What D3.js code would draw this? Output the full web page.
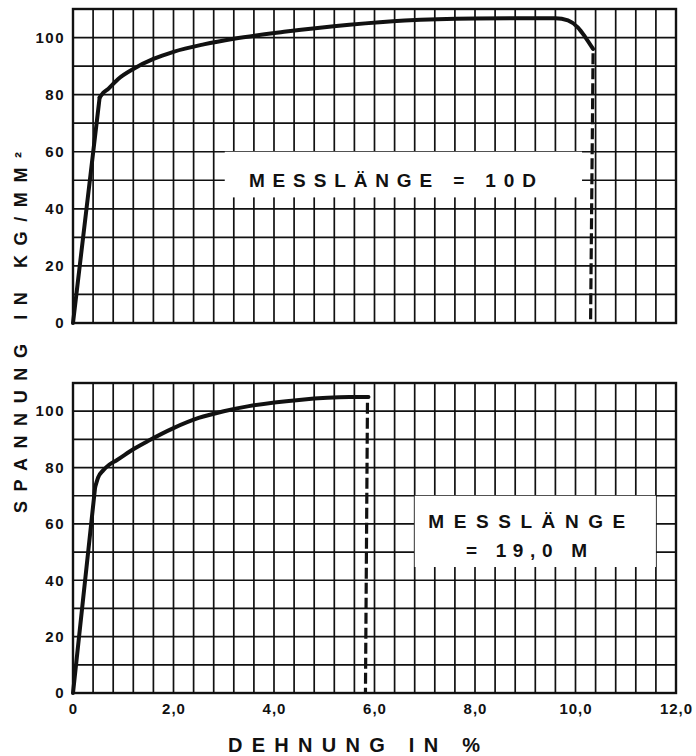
<!DOCTYPE html>
<html>
<head>
<meta charset="utf-8">
<script src="https://cdn.jsdelivr.net/npm/d3@7"></script>
<style>
	body { margin: 0; background: #fff; }
	text { font-family: "Liberation Sans", Arial, sans-serif; font-weight: bold; fill: #111; }
</style>
</head>
<body>
<svg id="chart"></svg>
<script>
// axis ticks
const xTicks = [0, 2, 4, 6, 8, 10, 12];
const xTickLabels = ["0", "2,0", "4,0", "6,0", "8,0", "10,0", "12,0"];
const yTicks = [0, 20, 40, 60, 80, 100];
const yTickLabels = ["0", "20", "40", "60", "80", "100"];

// upper diagram (Messlänge = 10 D)
const strainTop = [0, 0.53, 0.6, 0.7, 0.9, 1.2, 1.6, 2.0, 2.6, 3.2, 4.2, 5.5, 6.6, 8.0, 9.6, 9.85, 10.05, 10.2, 10.35];
const stressTop = [0, 79, 80.6, 82, 85.5, 89, 92.5, 95, 97.6, 99.6, 102, 104.5, 106, 106.7, 106.8, 106, 103.5, 100, 96];
const breakStrainTop = [10.35, 10.3];
const breakStressTop = [94.5, 0];

// lower diagram (Messlänge = 19,0 M)
const strainBottom = [0, 0.44, 0.5, 0.6, 0.72, 0.87, 1.2, 1.5, 2.0, 2.5, 3.0, 3.5, 4.5, 5.5, 5.88];
const stressBottom = [0, 73, 76.5, 79, 81, 82.6, 86.5, 89.5, 94, 97.6, 100, 101.8, 104, 105, 105];
const breakStrainBottom = [5.86, 5.82];
const breakStressBottom = [103, 0];

const topLabel = "MESSLÄNGE = 10D";
const bottomLabel = ["MESSLÄNGE", "= 19,0 M"];
const yTitle = "SPANNUNG IN KG/MM²";
const xTitle = "DEHNUNG IN %";

let w = 696;
let h = 756;
let ink = "#111";

let svg = d3.select("#chart").attr("width", w).attr("height", h);

let xScale = d3.scaleLinear().domain([0, 12]).range([73, 676]);

function makePanel(yRange, strain, stress, bStrain, bStress, showX) {
	let yScale = d3.scaleLinear().domain([0, 110]).range(yRange);
	let g = svg.append("g");

	// grid: 0,4 % by 10 kg/mm2
	g.append("g").selectAll("line")
		.data(d3.range(0, 12.001, 0.4))
		.enter().append("line")
		.attr("x1", d => xScale(d)).attr("x2", d => xScale(d))
		.attr("y1", yScale(0)).attr("y2", yScale(110))
		.attr("stroke", ink).attr("stroke-width", 1.7);

	g.append("g").selectAll("line")
		.data(d3.range(0, 110.1, 10))
		.enter().append("line")
		.attr("x1", xScale(0)).attr("x2", xScale(12))
		.attr("y1", d => yScale(d)).attr("y2", d => yScale(d))
		.attr("stroke", ink).attr("stroke-width", 1.7);

	g.append("rect")
		.attr("x", xScale(0)).attr("y", yScale(110))
		.attr("width", xScale(12) - xScale(0))
		.attr("height", yScale(0) - yScale(110))
		.attr("fill", "none").attr("stroke", ink).attr("stroke-width", 2.4);

	// y axis
	let yAxis = d3.axisLeft(yScale)
		.tickValues(yTicks)
		.tickSize(0)
		.tickPadding(8)
		.tickFormat((d, i) => yTickLabels[i]);
	let ya = g.append("g")
		.attr("transform", `translate(${xScale(0)},0)`)
		.call(yAxis);
	ya.select(".domain").remove();
	ya.selectAll("text")
		.attr("font-size", 15)
		.attr("letter-spacing", 1.5)
		.attr("fill", ink)
		.style("font-family", '"Liberation Sans", Arial, sans-serif');

	if (showX) {
		let xAxis = d3.axisBottom(xScale)
			.tickValues(xTicks)
			.tickSize(0)
			.tickPadding(10)
			.tickFormat((d, i) => xTickLabels[i]);
		let xa = g.append("g")
			.attr("transform", `translate(0,${yScale(0)})`)
			.call(xAxis);
		xa.select(".domain").remove();
		xa.selectAll("text")
			.attr("font-size", 15)
			.attr("letter-spacing", 1)
			.attr("fill", ink)
			.style("font-family", '"Liberation Sans", Arial, sans-serif');
	}

	let pts = strain.map((s, i) => [s, stress[i]]);

	// elastic part is straight, the rest a smooth curve
	let straight = d3.line().x(d => xScale(d[0])).y(d => yScale(d[1]));
	let smooth = d3.line()
		.x(d => xScale(d[0]))
		.y(d => yScale(d[1]))
		.curve(d3.curveMonotoneX);

	g.append("path")
		.datum(pts.slice(0, 2))
		.attr("d", straight)
		.attr("fill", "none")
		.attr("stroke", ink)
		.attr("stroke-width", 4)
		.attr("stroke-linecap", "round");

	g.append("path")
		.datum(pts.slice(1))
		.attr("d", smooth)
		.attr("fill", "none")
		.attr("stroke", ink)
		.attr("stroke-width", 4)
		.attr("stroke-linecap", "round");

	g.append("path")
		.datum(bStrain.map((s, i) => [s, bStress[i]]))
		.attr("d", straight)
		.attr("fill", "none")
		.attr("stroke", ink)
		.attr("stroke-width", 3.2)
		.attr("stroke-dasharray", "11,4");

	return yScale;
}

let yTop = makePanel([323, 9], strainTop, stressTop, breakStrainTop, breakStressTop, false);
let yBottom = makePanel([693, 383], strainBottom, stressBottom, breakStrainBottom, breakStressBottom, true);

// label boxes
svg.append("rect")
	.attr("x", xScale(3.02)).attr("y", yTop(60))
	.attr("width", xScale(10.13) - xScale(3.02))
	.attr("height", yTop(44) - yTop(60))
	.attr("fill", "#fff");

svg.append("text")
	.attr("x", xScale(3.5)).attr("y", yTop(47.8))
	.attr("font-size", 19)
	.attr("textLength", 287)
	.attr("lengthAdjust", "spacing")
	.text(topLabel);

svg.append("rect")
	.attr("x", xScale(6.8)).attr("y", yBottom(70))
	.attr("width", xScale(11.6) - xScale(6.8))
	.attr("height", yBottom(44.7) - yBottom(70))
	.attr("fill", "#fff");

svg.append("text")
	.attr("x", xScale(7.07)).attr("y", yBottom(58.4))
	.attr("font-size", 19)
	.attr("textLength", 197)
	.attr("lengthAdjust", "spacing")
	.text(bottomLabel[0]);

svg.append("text")
	.attr("x", xScale(7.82)).attr("y", yBottom(48.1))
	.attr("font-size", 19)
	.attr("textLength", 121)
	.attr("lengthAdjust", "spacing")
	.text(bottomLabel[1]);

// axis titles
svg.append("text")
	.attr("transform", "rotate(-90)")
	.attr("x", -513)
	.attr("y", 27)
	.attr("font-size", 18)
	.attr("textLength", 361)
	.attr("lengthAdjust", "spacing")
	.text(yTitle);

svg.append("text")
	.attr("x", 228)
	.attr("y", 752)
	.attr("font-size", 20)
	.attr("textLength", 252)
	.attr("lengthAdjust", "spacing")
	.text(xTitle);
</script>
</body>
</html>
